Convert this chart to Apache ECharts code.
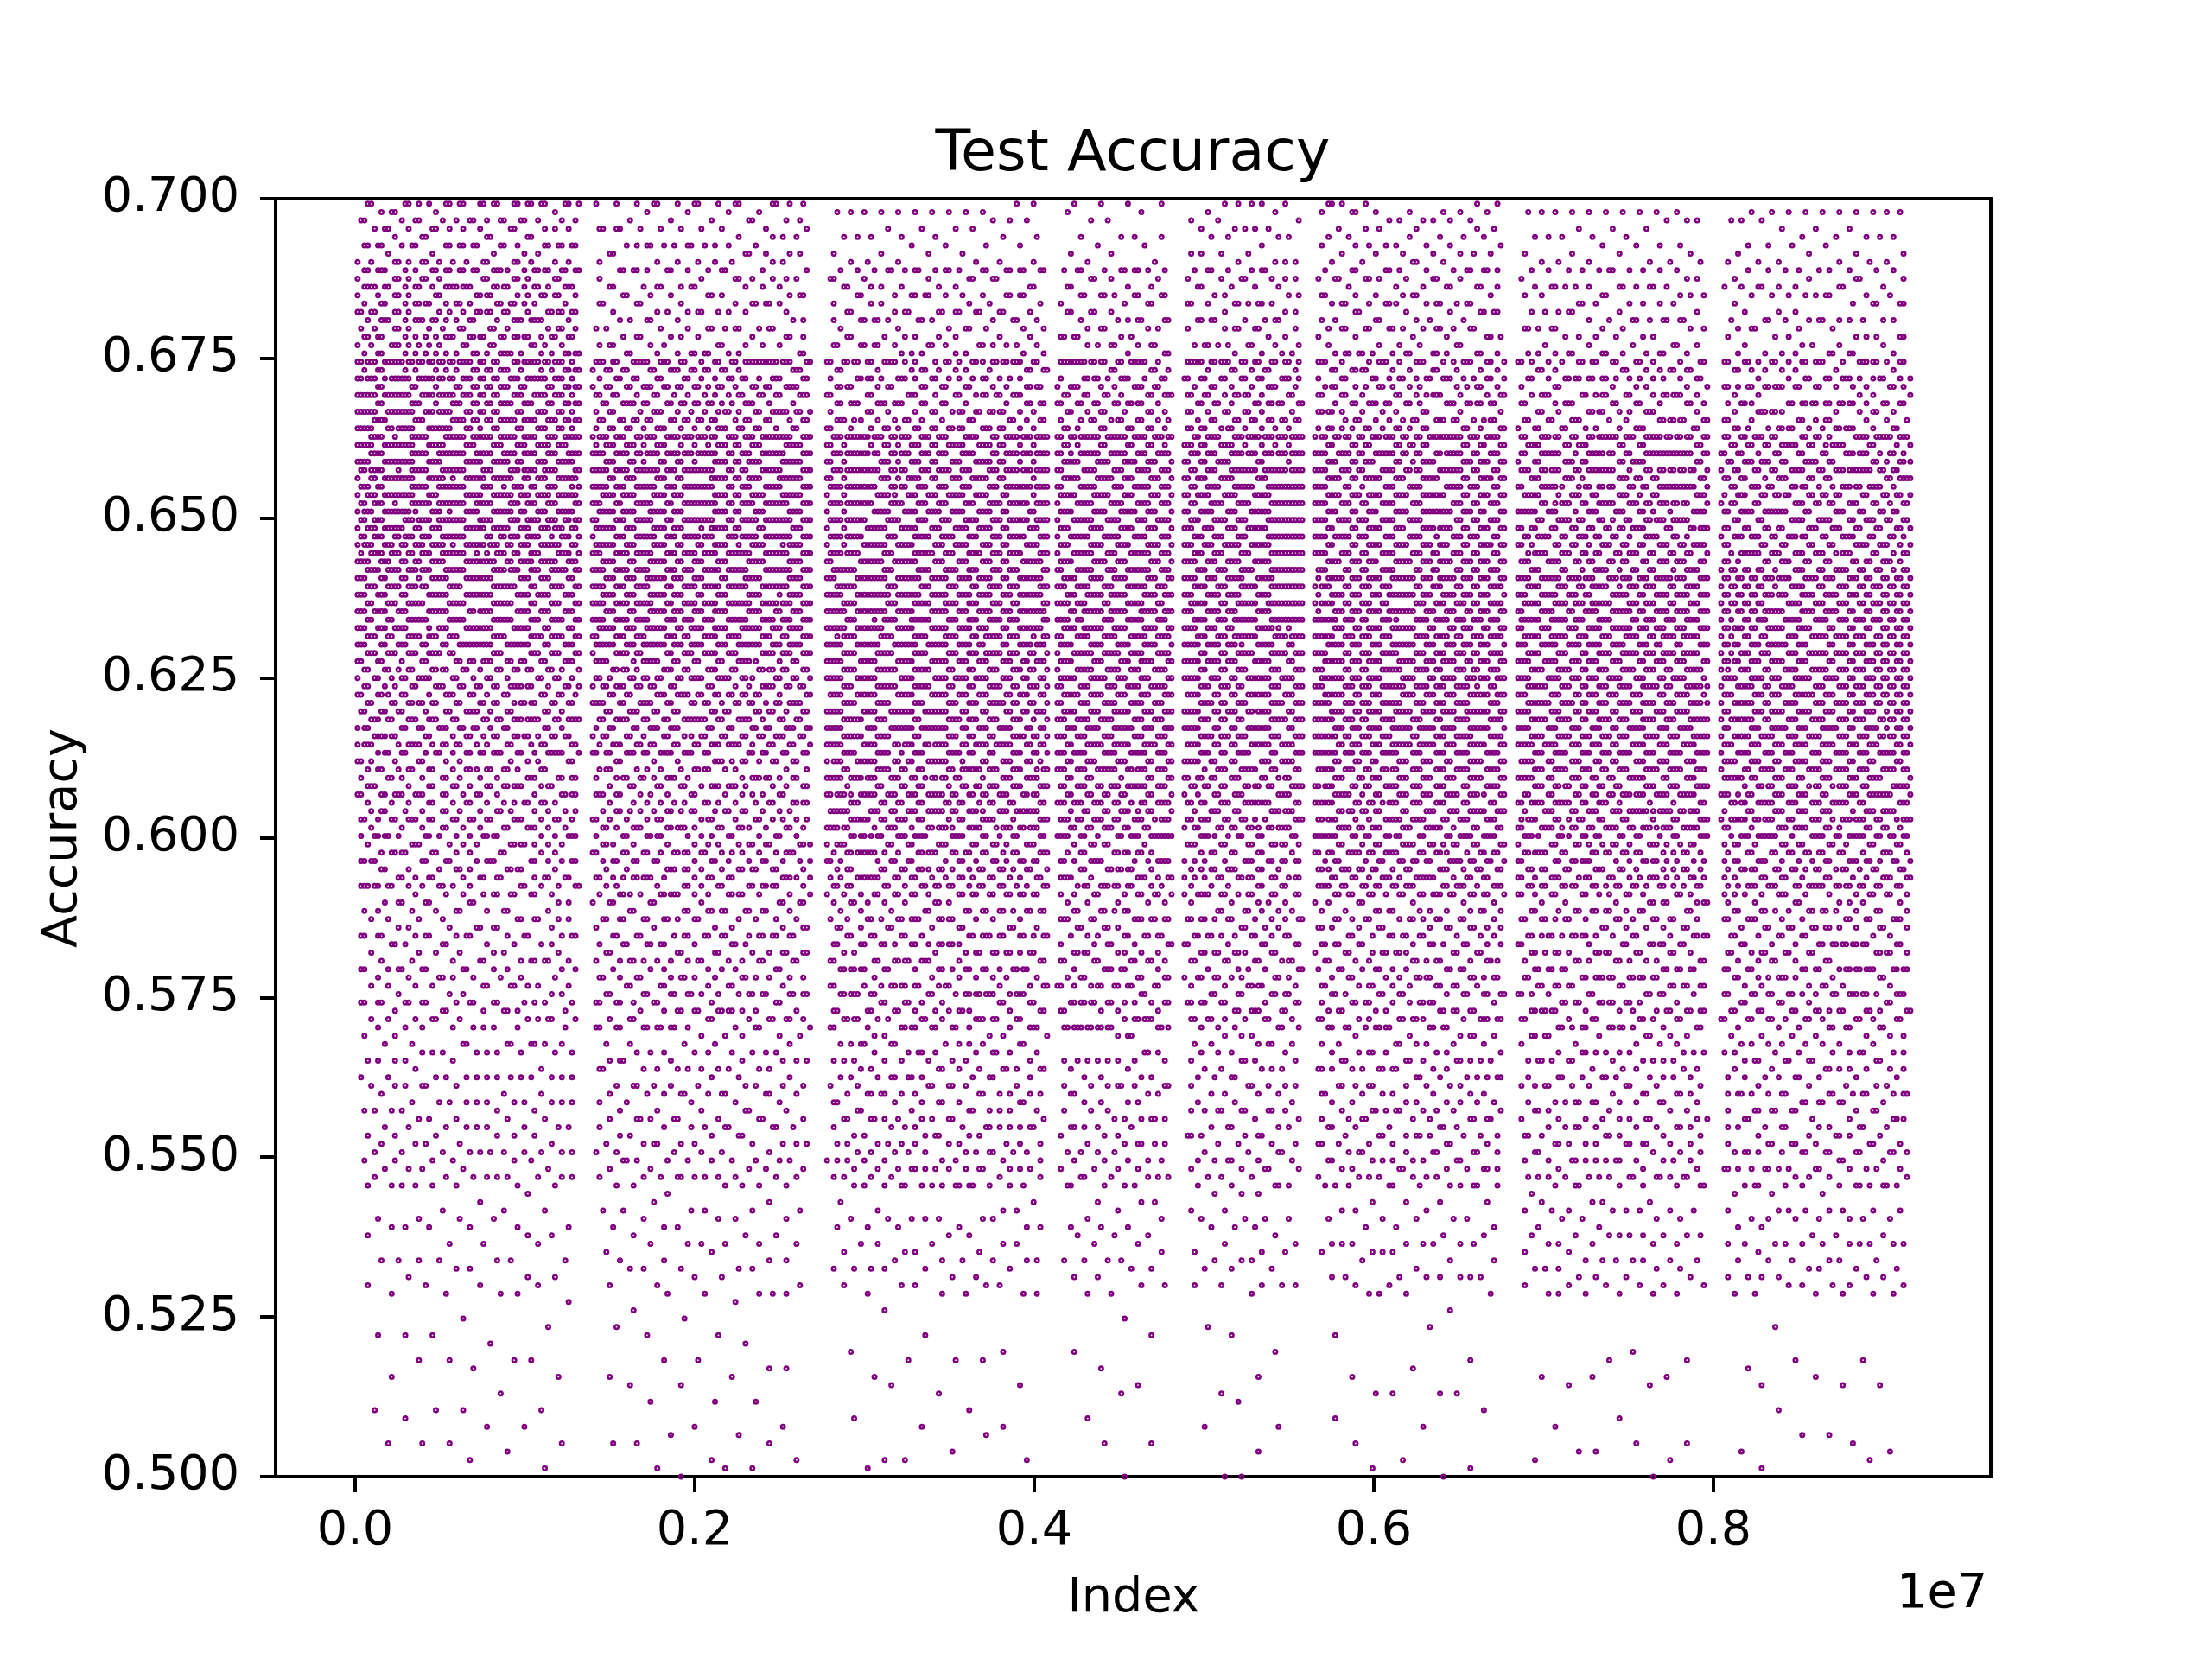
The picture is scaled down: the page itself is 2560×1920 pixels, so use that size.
<!DOCTYPE html>
<html>
<head>
<meta charset="utf-8">
<script src="https://cdn.jsdelivr.net/npm/echarts@6/dist/echarts.min.js"></script>
<style>
  html, body { margin: 0; padding: 0; background: #fff; }
  #chart { width: 2560px; height: 1920px; }
</style>
</head>
<body>
<div id="chart"></div>
<script>
// x values are in units of 1e7 (matplotlib puts "1e7" as offset text)
// eight training blocks
const blockStart = [0.0015, 0.140, 0.278, 0.4137, 0.4885, 0.5654, 0.685, 0.8046];
const blockEnd   = [0.1318, 0.268, 0.4076, 0.4809, 0.5578, 0.6768, 0.7964, 0.916];
const slotStep = 0.002;          // spacing of evaluated indices inside a block
const testSetSize = 768;         // accuracies sit on k / 768

// accuracy bands and, per block, share of index slots holding a point in that band
const bandEdges = [0.5, 0.528, 0.545, 0.57, 0.59, 0.6, 0.612, 0.628, 0.641, 0.664, 0.675, 0.69, 0.7];
const blockFill = [
  [0.025, 0.056, 0.11, 0.16, 0.23, 0.28, 0.35, 0.46, 0.56, 0.48, 0.32, 0.20],
  [0.025, 0.062, 0.125, 0.20, 0.27, 0.28, 0.38, 0.53, 0.53, 0.36, 0.16, 0.13],
  [0.019, 0.074, 0.16, 0.23, 0.34, 0.42, 0.46, 0.53, 0.49, 0.29, 0.17, 0.08],
  [0.019, 0.074, 0.14, 0.23, 0.31, 0.42, 0.49, 0.53, 0.49, 0.32, 0.17, 0.07],
  [0.019, 0.074, 0.14, 0.23, 0.31, 0.39, 0.46, 0.53, 0.49, 0.32, 0.17, 0.10],
  [0.019, 0.074, 0.16, 0.23, 0.38, 0.42, 0.53, 0.53, 0.46, 0.29, 0.17, 0.12],
  [0.019, 0.093, 0.16, 0.23, 0.34, 0.42, 0.49, 0.53, 0.42, 0.25, 0.14, 0.08],
  [0.019, 0.093, 0.16, 0.23, 0.34, 0.42, 0.49, 0.49, 0.39, 0.25, 0.13, 0.08]
];

const xTicks = [0, 0.2, 0.4, 0.6, 0.8];

function bandOf(acc) {
  for (let i = 0; i < bandEdges.length - 1; i++) {
    if (acc < bandEdges[i + 1]) return i;
  }
  return bandEdges.length - 2;
}

// turn each block's share map into marks with error diffusion, top level first;
// levels just above 0.7 (cut off by the axis) are run too so the top edge settles.
// a lower threshold after a hit lets marks run together along a level
const points = [];
for (let b = 0; b < blockStart.length; b++) {
  const slots = Math.round((blockEnd[b] - blockStart[b]) / slotStep) + 1;
  const step = (blockEnd[b] - blockStart[b]) / (slots - 1);
  const kTop = Math.floor(0.7 * testSetSize) + 10;
  const kBottom = testSetSize / 2;
  let err = new Array(slots + 2).fill(0);
  let row = 0;
  for (let k = kTop; k >= kBottom; k--, row++) {
    const acc = k / testSetSize;
    const p = blockFill[b][bandOf(acc)];
    const next = new Array(slots + 2).fill(0);
    const ltr = (row + b) % 2 === 0;
    let prev = 0;
    for (let i = 0; i < slots; i++) {
      const s = ltr ? i : slots - 1 - i;
      const d = ltr ? 1 : -1;
      const v = p + err[s + 1];
      const out = v >= (prev ? 0.3 : 0.62) ? 1 : 0;
      if (out && acc <= 0.7) points.push([blockStart[b] + s * step, acc]);
      prev = out;
      const e = v - out;
      err[s + 1 + d] += e * 7 / 16;
      next[s + 1 - d] += e * 3 / 16;
      next[s + 1] += e * 5 / 16;
      next[s + 1 + d] += e * 1 / 16;
    }
    err = next;
  }
}

const font = 'DejaVu Sans';
const chart = echarts.init(document.getElementById('chart'));
chart.setOption({
  animation: false,
  backgroundColor: '#fff',
  grid: {
    left: 319, top: 230, width: 1985, height: 1479,
    show: true, borderColor: '#000', borderWidth: 4, backgroundColor: 'transparent'
  },
  xAxis: {
    type: 'value',
    min: -0.0468,
    max: 0.9634,
    splitLine: { show: false },
    axisLine: { show: false, onZero: false },
    axisTick: {
      show: true, customValues: xTicks, length: 18,
      lineStyle: { color: '#000', width: 4 }
    },
    axisLabel: {
      customValues: xTicks,
      formatter: v => v.toFixed(1),
      fontFamily: font, fontSize: 55.6, color: '#000', margin: 36
    }
  },
  yAxis: {
    type: 'value',
    min: 0.5,
    max: 0.7,
    interval: 0.025,
    splitLine: { show: false },
    axisLine: { show: false, onZero: false },
    axisTick: {
      show: true, length: 18,
      lineStyle: { color: '#000', width: 4 }
    },
    axisLabel: {
      formatter: v => v.toFixed(3),
      fontFamily: font, fontSize: 55.6, color: '#000', margin: 42,
      padding: [18, 0, 0, 0]
    }
  },
  graphic: [
    { type: 'text', x: 1311, y: 180, style: { text: 'Test Accuracy', font: '66.7px "DejaVu Sans"', fill: '#000', align: 'center', verticalAlign: 'middle' } },
    { type: 'text', x: 1312, y: 1851, style: { text: 'Index', font: '55.6px "DejaVu Sans"', fill: '#000', align: 'center', verticalAlign: 'middle' } },
    { type: 'text', x: 2300, y: 1846, style: { text: '1e7', font: '55.6px "DejaVu Sans"', fill: '#000', align: 'right', verticalAlign: 'middle' } },
    { type: 'text', x: 74, y: 970, rotation: Math.PI / 2, style: { text: 'Accuracy', font: '55.6px "DejaVu Sans"', fill: '#000', align: 'center', verticalAlign: 'middle' } }
  ],
  series: [{
    type: 'scatter',
    data: points,
    symbol: 'circle',
    symbolSize: 4.4,
    large: false,
    progressive: 0,
    itemStyle: { color: 'rgba(0,0,0,0)', borderColor: '#800080', borderWidth: 2.6, opacity: 1 }
  }]
});
</script>
</body>
</html>
